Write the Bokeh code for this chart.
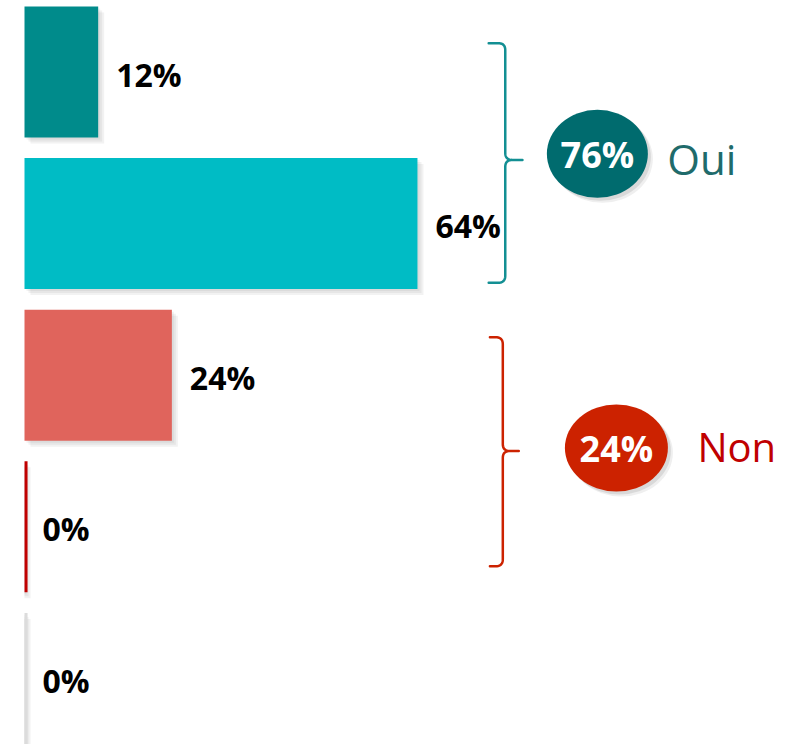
import numpy as np
from bokeh.plotting import figure
from bokeh.models import Range1d, ColumnDataSource
from bokeh.core.properties import value
from bokeh.embed import file_html
from bokeh.resources import INLINE

# ---- data ----
values = [12, 64, 24, 0, 0]
bar_labels = ["12%", "64%", "24%", "0%", "0%"]
bar_colors = ["#008B8B", "#00BCC5", "#E0645C", "#C00000", "#DCDCDC"]
positions = [0, 1, 2, 3, 4]

group_names = ["Oui", "Non"]
group_totals = ["76%", "24%"]
group_badge_colors = ["#006B6E", "#CC2200"]
group_text_colors = ["#1F6B6B", "#C00000"]
group_badge_x = [93.3, 96.4]
group_badge_y = [0.54, 2.48]
group_name_x = [104.7, 109.6]
group_name_y = [0.565, 2.465]
group_name_size = ["42px", "40px"]
brace_spans = [(-0.19, 0.58, 1.39), (1.75, 2.50, 3.26)]
brace_x = [(78.3, 81.1, 75.6), (77.9, 80.5, 75.8)]
brace_colors = ["#138F93", "#CC2200"]

# ---- geometry of the page ----
W, H = 790, 744
PX = 6.14          # px per percent
X0 = 24            # px of the zero line
ROW = 151.6        # px per row
Y0 = 71.5          # px of first row centre
BAR_H = 0.864

p = figure(width=W, height=H, output_backend="svg", toolbar_location=None,
           x_range=Range1d(-X0 / PX, (W - X0) / PX),
           y_range=Range1d((H - Y0) / ROW, -Y0 / ROW),
           min_border=0, outline_line_color=None)
p.axis.visible = False
p.grid.visible = False
p.background_fill_color = "white"

src = ColumnDataSource(dict(y=positions, v=values, c=bar_colors, lab=bar_labels,
                            zero=[0] * len(values)))

# soft shadows
for k in (2, 4, 6):
    dx, dy = k / PX, k / ROW
    p.hbar(y=[pp + dy for pp in positions], left=[dx] * len(values),
           right=[v + dx if v > 0 else 0 for v in values], height=BAR_H,
           fill_color="#808080", fill_alpha=0.10, line_color=None)

p.hbar(y="y", left="zero", right="v", height=BAR_H, fill_color="c", line_color=None, source=src)

# zero-valued bars drawn as thin lines
zy = [pp for pp, v in zip(positions, values) if v == 0]
zc = [c for c, v in zip(bar_colors, values) if v == 0]
p.segment(x0=[0.25] * len(zy), x1=[0.25] * len(zy),
          y0=[y - BAR_H / 2 for y in zy], y1=[y + BAR_H / 2 for y in zy],
          line_color=zc, line_width=3)

p.text(x="v", y="y", text="lab", source=src, x_offset=18, y_offset=2,
       text_baseline="middle", text_align="left",
       text_font=value("Open Sans"), text_font_style="bold",
       text_font_size="32px", text_color="black")

# braces
def brace(xv, xt, xe, yt, ym, yb):
    rx, ry = 7 / PX, 7 / ROW
    def quad(p0, c, p1, n=12):
        t = np.linspace(0, 1, n)
        xs = (1 - t) ** 2 * p0[0] + 2 * (1 - t) * t * c[0] + t ** 2 * p1[0]
        ys = (1 - t) ** 2 * p0[1] + 2 * (1 - t) * t * c[1] + t ** 2 * p1[1]
        return list(xs), list(ys)
    X, Y = [xe], [yt]
    for seg in [quad((xv - rx, yt), (xv, yt), (xv, yt + ry)),
                quad((xv, ym - ry), (xv, ym), (xv + rx, ym)),
                ([xt, xv + rx], [ym, ym]),
                quad((xv + rx, ym), (xv, ym), (xv, ym + ry)),
                quad((xv, yb - ry), (xv, yb), (xv - rx, yb))]:
        X += seg[0]; Y += seg[1]
    X.append(xe); Y.append(yb)
    return X, Y

for (yt, ym, yb), (xv, xt, xe), col in zip(brace_spans, brace_x, brace_colors):
    bx, by = brace(xv, xt, xe, yt, ym, yb)
    p.line(bx, by, line_color=col, line_width=2.5, line_join="round", line_cap="round")

# badges
for k, a in ((3, 0.15), (5, 0.10)):
    p.ellipse(x=[x + k / PX for x in group_badge_x], y=[y + k / ROW for y in group_badge_y],
              width=[101, 103], height=[88, 87], width_units="screen", height_units="screen",
              fill_color="#606060", fill_alpha=a, line_color=None)
p.ellipse(x=group_badge_x, y=group_badge_y, width=[101, 103], height=[88, 87],
          width_units="screen", height_units="screen",
          fill_color=group_badge_colors, line_color=None)
p.text(x=group_badge_x, y=group_badge_y, text=group_totals, text_align="center",
       text_baseline="middle", y_offset=1, text_font=value("Open Sans"),
       text_font_style="bold", text_font_size="36px", text_color="white")
gsrc = ColumnDataSource(dict(x=group_name_x, y=group_name_y, t=group_names,
                             c=group_text_colors, s=group_name_size))
p.text(x="x", y="y", text="t", source=gsrc, text_align="left", text_baseline="middle",
       y_offset=1, text_font=value("Open Sans"), text_font_size="s", text_color="c")

open("out.html", "w").write(file_html(p, INLINE))
